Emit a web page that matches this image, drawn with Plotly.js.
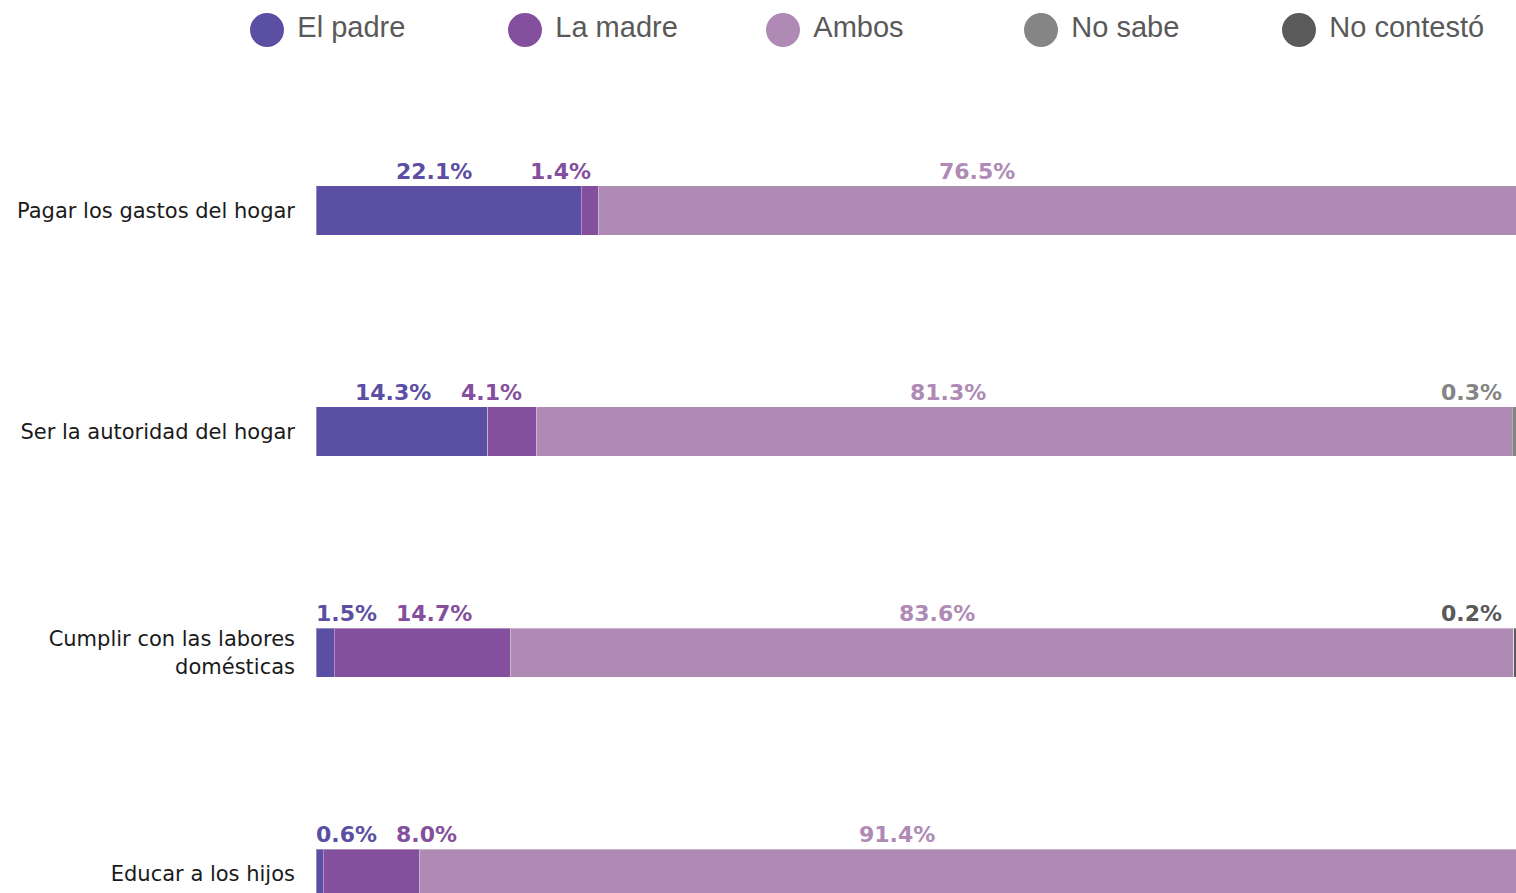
<!DOCTYPE html>
<html>
<head>
<meta charset="utf-8">
<script src="https://cdn.plot.ly/plotly-3.0.1.min.js"></script>
<style>
  html, body { margin: 0; padding: 0; background: #fff; overflow: hidden; }
  #plot { width: 1516px; height: 893px; }
</style>
</head>
<body>
<div id="plot"></div>
<script>
// data
var categories = ['Pagar los gastos del hogar', 'Ser la autoridad del hogar',
  'Cumplir con las labores<br>domésticas', 'Educar a los hijos'];
var seriesNames = ['El padre', 'La madre', 'Ambos', 'No sabe', 'No contestó'];
var seriesColors = ['#5b4fa3', '#84509e', '#ae8ab5', '#858585', '#5a5a5a'];
var padre = [22.1, 14.3, 1.5, 0.6];
var madre = [1.4, 4.1, 14.7, 8.0];
var ambos = [76.5, 81.3, 83.6, 91.4];
var noSabe = [0, 0.3, 0, 0];
var noContesto = [0, 0, 0.2, 0];

var seriesValues = [padre, madre, ambos, noSabe, noContesto];
var catIdx = categories.map(function (c, i) { return i; });

var BAR_W = 0.222;
var PX_PER_UNIT = 12;       // 1200px of plot for 100%
var LABEL_SCALE = 0.892;    // label spread used by the original chart
var GAP = 1.6;

var traces = [];
seriesValues.forEach(function (vals, s) {
  traces.push({
    type: 'bar',
    orientation: 'h',
    y: catIdx,
    x: vals,
    width: BAR_W,
    name: seriesNames[s],
    marker: { color: seriesColors[s], line: { color: 'rgba(255,255,255,0.35)', width: 1 } },
    hoverinfo: 'skip',
    showlegend: false
  });
});

// legend drawn as its own little scatter row
traces.push({
  type: 'scatter',
  mode: 'markers+text',
  x: seriesNames.map(function (n, i) { return i; }),
  y: seriesNames.map(function () { return 0; }),
  xaxis: 'x2',
  yaxis: 'y2',
  text: seriesNames.map(function (n) { return '\u00a0' + n; }),
  textposition: 'middle right',
  textfont: { family: 'Liberation Sans, Arial, sans-serif', size: 29, color: '#595959' },
  marker: { size: 34, color: seriesColors },
  hoverinfo: 'skip',
  showlegend: false,
  cliponaxis: false
});

function labelWidth(txt) {
  var w = 0;
  for (var k = 0; k < txt.length; k++) {
    var ch = txt[k];
    if (ch === '.') w += 8.4;
    else if (ch === '%') w += 22;
    else w += 15.3;
  }
  return w / PX_PER_UNIT;
}

var annotations = [];
categories.forEach(function (c, i) {
  var start = 0;
  var prevRight = -Infinity;
  seriesValues.forEach(function (vals, s) {
    var v = vals[i];
    if (v > 0) {
      var txt = v.toFixed(1) + '%';
      var ann = {
        text: '<b>' + txt + '</b>',
        y: i - BAR_W / 2,
        yref: 'y',
        xref: 'x',
        yanchor: 'bottom',
        showarrow: false,
        font: { family: 'DejaVu Sans, sans-serif', size: 22, color: seriesColors[s] }
      };
      if (s >= 3) {
        ann.x = 100;
        ann.xanchor = 'right';
        ann.xshift = -12;
      } else {
        var hw = labelWidth(txt) / 2;
        var xc = (start + v / 2) * LABEL_SCALE;
        if (xc - hw < prevRight + GAP) xc = prevRight + GAP + hw;
        if (xc - hw < 0) xc = hw;
        prevRight = xc + hw;
        ann.x = xc;
        ann.xanchor = 'center';
      }
      annotations.push(ann);
    }
    start += v;
  });
});

var layout = {
  width: 1516,
  height: 893,
  margin: { l: 0, r: 0, t: 0, b: 0 },
  paper_bgcolor: '#ffffff',
  plot_bgcolor: 'rgba(0,0,0,0)',
  barmode: 'stack',
  showlegend: false,
  xaxis: {
    domain: [316 / 1516, 1],
    range: [0, 100],
    showgrid: false, zeroline: false, showticklabels: false, fixedrange: true
  },
  yaxis: {
    domain: [0, 793 / 893],
    range: [3.088, -0.5],
    tickvals: catIdx,
    ticktext: categories,
    ticks: '',
    ticklabelstandoff: 20,
    showgrid: false, zeroline: false,
    tickfont: { family: 'DejaVu Sans, sans-serif', size: 21, color: '#1a1a1a' }
  },
  xaxis2: {
    domain: [0, 1],
    range: [-267 / 258, (1516 - 267) / 258],
    anchor: 'y2',
    visible: false
  },
  yaxis2: {
    domain: [833 / 893, 1],
    range: [-1, 1],
    anchor: 'x2',
    visible: false
  },
  annotations: annotations
};

Plotly.newPlot('plot', traces, layout, { displayModeBar: false, staticPlot: true });
</script>
</body>
</html>
